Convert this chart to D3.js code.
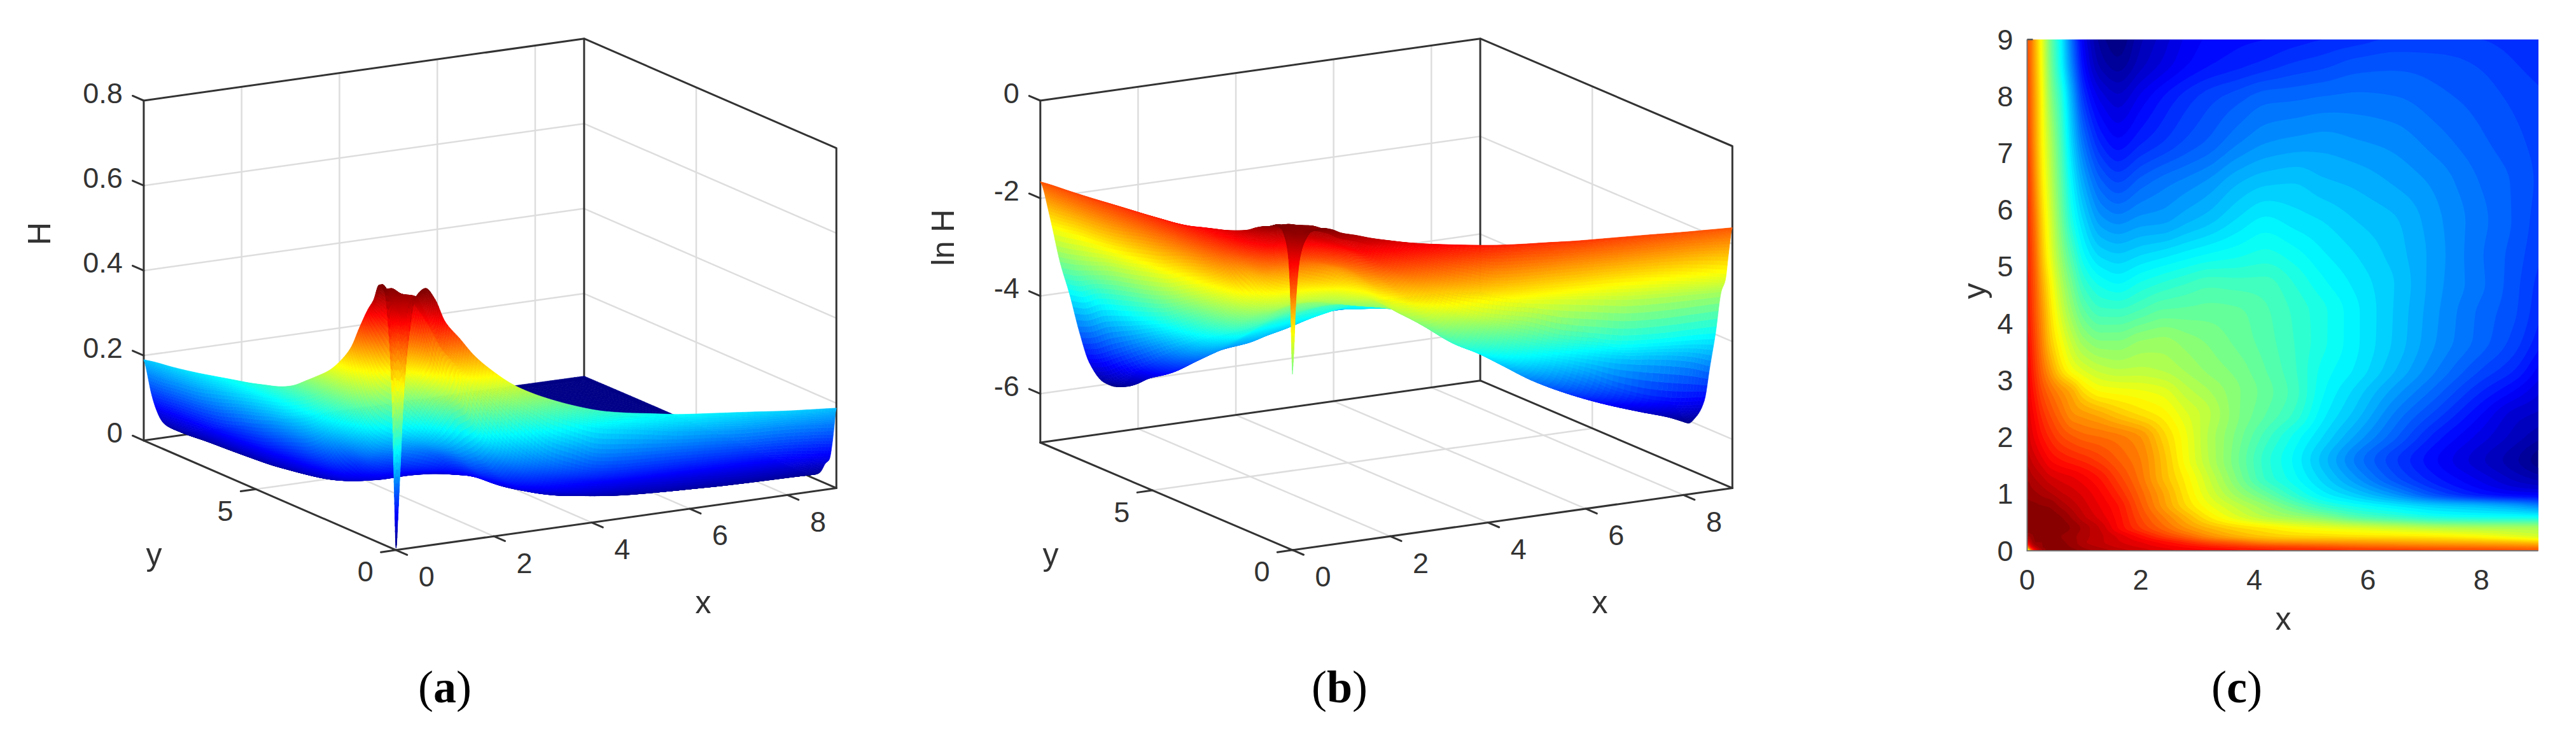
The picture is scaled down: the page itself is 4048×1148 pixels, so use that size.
<!DOCTYPE html>
<html><head><meta charset="utf-8">
<script src="https://d3js.org/d3.v7.min.js"></script>
<style>html,body{margin:0;background:#fff}svg{display:block}text{font-family:"Liberation Sans",Arial,sans-serif;fill:#333}</style>
</head><body><svg id="c" width="4048" height="1148" viewBox="0 0 4048 1148"></svg>
<script>
// grid coordinates (same for x and y)
const gridXY=[0,.03,.07,.15,.25,.4,.6,.8,1,1.3,1.6,2,2.4,2.8,3.2,3.7,4.2,4.7,5.2,5.8,6.5,7.2,8,8.6,9];
// ln H; one row per y in gridXY, one value per x in gridXY
const lnH=[
[-3.4,-2.9,-1.9,-1.05,-.72,-.53,-.5,-.55,-.65,-.74,-.84,-.95,-1.05,-1.13,-1.2,-1.28,-1.35,-1.4,-1.44,-1.49,-1.53,-1.57,-1.62,-1.65,-1.67],
[-2.9,-2.2,-1.6,-1.0,-.72,-.54,-.52,-.58,-.68,-.77,-.87,-.97,-1.07,-1.16,-1.23,-1.32,-1.4,-1.45,-1.48,-1.54,-1.59,-1.63,-1.67,-1.71,-1.73],
[-1.85,-1.6,-1.15,-.8,-.62,-.53,-.55,-.62,-.72,-.82,-.92,-1.02,-1.13,-1.23,-1.33,-1.44,-1.53,-1.58,-1.63,-1.7,-1.75,-1.8,-1.83,-1.87,-1.9],
[-1.0,-1.0,-.8,-.6,-.6,-.56,-.58,-.65,-.78,-.88,-.98,-1.1,-1.25,-1.42,-1.6,-1.75,-1.92,-1.97,-2.0,-2.03,-2.08,-2.13,-2.18,-2.24,-2.3],
[-.7,-.72,-.65,-.58,-.58,-.55,-.6,-.67,-.76,-.88,-1.02,-1.25,-1.5,-1.72,-1.95,-2.15,-2.28,-2.35,-2.38,-2.42,-2.45,-2.5,-2.6,-2.72,-2.8],
[-.52,-.52,-.53,-.55,-.53,-.54,-.55,-.62,-.74,-.92,-1.2,-1.5,-1.75,-2.0,-2.2,-2.38,-2.5,-2.62,-2.7,-2.78,-2.88,-2.98,-3.03,-3.06,-3.08],
[-.5,-.5,-.5,-.52,-.52,-.55,-.6,-.73,-.88,-1.05,-1.25,-1.6,-1.9,-2.2,-2.5,-2.78,-3.0,-3.15,-3.3,-3.55,-3.72,-3.87,-3.93,-3.95,-3.97],
[-.57,-.57,-.57,-.58,-.6,-.62,-.74,-.85,-.96,-1.12,-1.3,-1.68,-2.05,-2.4,-2.68,-2.95,-3.2,-3.48,-3.75,-3.95,-4.13,-4.3,-4.42,-4.55,-4.7],
[-.62,-.63,-.65,-.68,-.72,-.78,-.88,-.95,-1.03,-1.19,-1.4,-1.75,-2.1,-2.47,-2.8,-3.15,-3.45,-3.77,-4.05,-4.3,-4.62,-5.0,-5.3,-5.42,-5.45],
[-.72,-.73,-.77,-.82,-.88,-.98,-1.05,-1.1,-1.18,-1.33,-1.55,-1.85,-2.22,-2.55,-2.9,-3.32,-3.72,-3.97,-4.25,-4.6,-4.99,-5.29,-5.55,-5.75,-5.86],
[-.84,-.86,-.9,-.97,-1.06,-1.2,-1.3,-1.37,-1.43,-1.55,-1.7,-1.9,-2.25,-2.65,-3.0,-3.38,-3.75,-4.02,-4.34,-4.73,-5.09,-5.39,-5.68,-5.88,-6.06],
[-.95,-.97,-1.04,-1.14,-1.27,-1.42,-1.58,-1.68,-1.75,-1.8,-1.86,-2.0,-2.35,-2.68,-3.02,-3.34,-3.65,-3.93,-4.2,-4.53,-4.89,-5.25,-5.55,-5.75,-5.87],
[-1.04,-1.06,-1.13,-1.26,-1.42,-1.6,-1.8,-1.98,-2.05,-2.15,-2.28,-2.42,-2.55,-2.78,-2.98,-3.28,-3.5,-3.72,-4.06,-4.35,-4.73,-5.04,-5.4,-5.65,-5.72],
[-1.11,-1.13,-1.22,-1.38,-1.58,-1.78,-1.98,-2.16,-2.42,-2.6,-2.64,-2.68,-2.75,-2.95,-3.09,-3.28,-3.45,-3.65,-3.98,-4.24,-4.56,-4.85,-5.2,-5.42,-5.58],
[-1.18,-1.2,-1.3,-1.5,-1.74,-2.05,-2.42,-2.68,-2.82,-2.95,-3.0,-2.98,-3.02,-3.12,-3.23,-3.34,-3.5,-3.68,-3.93,-4.12,-4.4,-4.69,-5.0,-5.2,-5.42],
[-1.27,-1.29,-1.38,-1.6,-1.88,-2.28,-2.65,-2.95,-3.17,-3.3,-3.3,-3.2,-3.17,-3.25,-3.32,-3.43,-3.55,-3.7,-3.87,-4.08,-4.33,-4.6,-4.85,-5.05,-5.25],
[-1.33,-1.35,-1.45,-1.68,-1.97,-2.4,-2.85,-3.2,-3.47,-3.65,-3.66,-3.57,-3.47,-3.46,-3.45,-3.48,-3.58,-3.72,-3.87,-4.08,-4.32,-4.58,-4.83,-4.99,-5.17],
[-1.37,-1.39,-1.5,-1.73,-2.08,-2.52,-3.02,-3.4,-3.73,-3.93,-4.0,-3.88,-3.78,-3.7,-3.63,-3.65,-3.66,-3.8,-3.97,-4.13,-4.31,-4.56,-4.78,-4.97,-5.13],
[-1.41,-1.43,-1.54,-1.8,-2.2,-2.68,-3.2,-3.62,-3.98,-4.22,-4.28,-4.2,-4.13,-4.05,-3.98,-3.92,-3.86,-3.95,-4.08,-4.2,-4.35,-4.55,-4.79,-4.95,-5.08],
[-1.45,-1.48,-1.6,-1.88,-2.3,-2.78,-3.37,-3.88,-4.22,-4.55,-4.63,-4.55,-4.52,-4.42,-4.33,-4.18,-4.07,-4.14,-4.2,-4.3,-4.39,-4.57,-4.77,-4.92,-5.05],
[-1.5,-1.53,-1.67,-2.0,-2.42,-2.9,-3.5,-4.08,-4.5,-4.88,-5.01,-4.86,-4.75,-4.67,-4.58,-4.42,-4.33,-4.31,-4.38,-4.43,-4.52,-4.63,-4.81,-4.92,-5.02],
[-1.55,-1.6,-1.75,-2.08,-2.5,-3.0,-3.62,-4.28,-4.8,-5.22,-5.37,-5.22,-5.1,-4.98,-4.88,-4.72,-4.61,-4.57,-4.55,-4.59,-4.64,-4.75,-4.88,-4.97,-5.04],
[-1.6,-1.65,-1.8,-2.13,-2.55,-3.18,-3.78,-4.5,-5.15,-5.55,-5.68,-5.48,-5.3,-5.16,-5.05,-4.95,-4.85,-4.83,-4.8,-4.78,-4.8,-4.87,-4.95,-5.03,-5.08],
[-1.63,-1.69,-1.84,-2.18,-2.62,-3.3,-4.0,-4.75,-5.4,-5.85,-5.97,-5.75,-5.58,-5.42,-5.32,-5.25,-5.18,-5.1,-5.05,-4.97,-4.94,-4.96,-5.02,-5.1,-5.15],
[-1.66,-1.72,-1.85,-2.2,-2.65,-3.35,-4.05,-4.85,-5.5,-5.95,-6.08,-5.82,-5.65,-5.48,-5.38,-5.33,-5.3,-5.25,-5.2,-5.15,-5.08,-5.08,-5.1,-5.15,-5.18]
];
const originHPanelA=0.004;            // the spike of panel (a) reaches the floor
const lnHRange=[-6.1,-0.5];
const hRange=[0.002,0.6];
const xTicks3D=[0,2,4,6,8], yTicks3D=[0,5];
const zTicksA=[0,0.2,0.4,0.6,0.8], zTicksB=[0,-2,-4,-6];
const ticksC=[0,1,2,3,4,5,6,7,8,9], xTicksC=[0,2,4,6,8];
const jetStops=[0,.125,.375,.625,.875,1];
const jetColors=["#00007f","#0000ff","#00ffff","#ffff00","#ff0000","#7f0000"];

const jet=d3.scaleLinear().domain(jetStops).range(jetColors).interpolate(d3.interpolateRgb).clamp(true);
const svg=d3.select("#c");
const LINE="#333",GRID="#dddddd";
const SUB=6;

// shape-preserving mesh refinement for the shaded surface (the read values stay the mesh nodes)
function meshLine(xs,ys){
  const n=xs.length,d=[],m=new Array(n),out=[];
  for(let i=0;i<n-1;i++)d.push((ys[i+1]-ys[i])/(xs[i+1]-xs[i]));
  m[0]=d[0];m[n-1]=d[n-2];
  for(let i=1;i<n-1;i++){
    if(d[i-1]*d[i]<=0)m[i]=0;
    else{const h0=xs[i]-xs[i-1],h1=xs[i+1]-xs[i],w1=2*h1+h0,w2=h1+2*h0;m[i]=(w1+w2)/(w1/d[i-1]+w2/d[i]);}
  }
  for(let i=0;i<n-1;i++){
    const h=xs[i+1]-xs[i];
    for(let s=0;s<SUB;s++){
      const t=s/SUB,t2=t*t,t3=t2*t;
      out.push((2*t3-3*t2+1)*ys[i]+(t3-2*t2+t)*h*m[i]+(-2*t3+3*t2)*ys[i+1]+(t3-t2)*h*m[i+1]);
    }
  }
  out.push(ys[n-1]);
  return out;
}
const fineXY=meshLine(gridXY,gridXY);
function meshTable(t){
  const rows=t.map(r=>meshLine(gridXY,r));
  const cols=fineXY.map((_,i)=>meshLine(gridXY,rows.map(r=>r[i])));
  return fineXY.map((_,j)=>cols.map(c=>c[j]));
}
const N=fineXY.length;

function panel3D(cfg){
  const g=svg.append("g");
  const sx=d3.scaleLinear([0,9],[0,cfg.right[0]-cfg.origin[0]]), sxy=d3.scaleLinear([0,9],[0,cfg.right[1]-cfg.origin[1]]);
  const sy=d3.scaleLinear([0,9],[0,cfg.left[0]-cfg.origin[0]]), syy=d3.scaleLinear([0,9],[0,cfg.left[1]-cfg.origin[1]]);
  const sz=d3.scaleLinear(cfg.zDomain,[0,cfg.zTopY-cfg.left[1]]);
  const P=(x,y,z)=>[cfg.origin[0]+sx(x)+sy(y),cfg.origin[1]+sxy(x)+syy(y)+sz(z)];
  const [z0,z1]=cfg.zDomain;
  const pl=d3.line();
  const seg=(pts,col,w,par)=>(par||g).append("path").attr("d",pl(pts)).attr("fill","none").attr("stroke",col).attr("stroke-width",w).attr("stroke-linecap","round").attr("stroke-linejoin","round");
  cfg.zTicks.filter(z=>z!==z0&&z!==z1).forEach(z=>seg([P(0,9,z),P(9,9,z),P(9,0,z)],GRID,2.5));
  xTicks3D.filter(x=>x>0).forEach(x=>seg([P(x,0,z0),P(x,9,z0),P(x,9,z1)],GRID,2.5));
  yTicks3D.filter(y=>y>0).forEach(y=>seg([P(0,y,z0),P(9,y,z0),P(9,y,z1)],GRID,2.5));
  seg([P(0,9,z0),P(0,9,z1),P(9,9,z1),P(9,0,z1),P(9,0,z0)],LINE,3);
  seg([P(9,9,z0),P(9,9,z1)],LINE,3);
  seg([P(0,9,z0),P(9,9,z0),P(9,0,z0)],LINE,3);
  // surface facets, far corner first
  const fine=meshTable(cfg.table),facets=[];
  for(let i=N-2;i>=0;i--)for(let j=N-2;j>=0;j--){
    const c=[[i,j],[i+1,j],[i+1,j+1],[i,j+1]];
    let m=0;
    const pts=c.map(([a,b])=>{const v=cfg.toZ(fine[b][a]);m+=v/4;return P(fineXY[a],fineXY[b],v);});
    facets.push({pts,m});
  }
  g.append("g").selectAll("path").data(facets).join("path")
    .attr("d",d=>pl(d.pts)+"Z")
    .attr("fill",d=>jet(cfg.colorT(d.m))).attr("stroke",d=>jet(cfg.colorT(d.m))).attr("stroke-width",.7);
  seg([P(0,9,z0),P(0,0,z0),P(9,0,z0)],LINE,3);
  const len=v=>Math.hypot(v[0],v[1]);
  const ex=[P(1,0,z0)[0]-P(0,0,z0)[0],P(1,0,z0)[1]-P(0,0,z0)[1]],ey=[P(0,1,z0)[0]-P(0,0,z0)[0],P(0,1,z0)[1]-P(0,0,z0)[1]];
  const ue=[ex[0]/len(ex),ex[1]/len(ex)],uy=[ey[0]/len(ey),ey[1]/len(ey)];
  const txt=(x,y,s,o={})=>g.append("text").attr("x",x).attr("y",y).attr("text-anchor",o.a||"middle").attr("dominant-baseline","central").attr("font-size",o.fs||45).attr("transform",o.rot?`rotate(${o.rot},${x},${y})`:null).text(s);
  xTicks3D.forEach(x=>{const p=P(x,0,z0);seg([p,[p[0]-uy[0]*19,p[1]-uy[1]*19]],LINE,3);txt(p[0]+48,p[1]+42,String(x));});
  yTicks3D.forEach(y=>{const p=P(0,y,z0);seg([p,[p[0]-ue[0]*24,p[1]-ue[1]*24]],LINE,3);txt(p[0]-48,p[1]+34,String(y));});
  cfg.zTicks.forEach(z=>{const p=P(0,9,z);seg([p,[p[0]+uy[0]*19,p[1]+uy[1]*19]],LINE,3);txt(p[0]-33,p[1]-12,String(z),{a:"end"});});
  txt(cfg.xLabel[0],cfg.xLabel[1],"x",{fs:50});
  txt(cfg.yLabel[0],cfg.yLabel[1],"y",{fs:50});
  txt(cfg.zLabel[0],cfg.zLabel[1],cfg.zName,{fs:50,rot:-90});
}

const tableA=lnH.map(r=>r.slice()); tableA[0][0]=Math.log(originHPanelA);
const tA=d3.scaleLinear(hRange,[0,1]), tB=d3.scaleLinear(lnHRange,[0,1]);
panel3D({origin:[622.3,863.8],right:[1314.3,766.5],left:[225.9,691.8],zTopY:158,zDomain:[0,0.8],zTicks:zTicksA,
  table:tableA,toZ:Math.exp,colorT:tA,xLabel:[1105,946],yLabel:[242,871],zLabel:[62,367],zName:"H"});
panel3D({origin:[2031,863.8],right:[2722.3,766.5],left:[1634.8,695],zTopY:158,zDomain:[-7,0],zTicks:zTicksB,
  table:lnH,toZ:v=>v,colorT:tB,xLabel:[2514,946],yLabel:[1651,871],zLabel:[1482,373],zName:"ln H"});

// panel (c): filled contours
(function(){
  const L=3185.5,R=3988.6,T=62,B=865;
  const x=d3.scaleLinear([0,9],[L,R]),y=d3.scaleLinear([0,9],[B,T]);
  const g=svg.append("g");
  const clip=svg.append("clipPath").attr("id","cc");
  clip.append("rect").attr("x",L).attr("y",T).attr("width",R-L).attr("height",B-T);
  const fine=meshTable(lnH);
  const pg=[-.6,...fineXY,9.6];
  const M=pg.length;
  const flat=[];
  for(let j=0;j<M;j++)for(let i=0;i<M;i++){
    const jj=Math.max(0,Math.min(N-1,j-1)),ii=Math.max(0,Math.min(N-1,i-1));
    flat.push(fine[jj][ii]);
  }
  const idx=d3.scaleLinear(d3.range(M).map(d=>d+.5),pg);
  const levels=d3.range(-6.1,-0.44,0.1);
  const cont=d3.contours().size([M,M]).smooth(true).thresholds(levels)(flat);
  const ln=d3.line();
  const area=d=>d.coordinates.map(poly=>poly.map(r=>ln(r.slice(0,-1).map(p=>[x(idx(p[0])),y(idx(p[1]))]))+"Z").join("")).join("");
  const inner=g.append("g").attr("clip-path","url(#cc)");
  inner.append("rect").attr("x",L).attr("y",T).attr("width",R-L).attr("height",B-T).attr("fill",jet(0));
  inner.selectAll("path").data(cont).join("path").attr("d",area).attr("fill-rule","evenodd")
    .attr("fill",d=>jet(tB(d.value+.05))).attr("stroke","none");
  g.append("path").attr("d",d3.line()([[L,T],[L,B],[R,B]])).attr("fill","none").attr("stroke","#777").attr("stroke-width",2);
  g.append("path").attr("d",d3.line()([[L,T],[L+9,T]])).attr("fill","none").attr("stroke","#555").attr("stroke-width",2.5);
  const txt=(a,b,s,o={})=>g.append("text").attr("x",a).attr("y",b).attr("text-anchor",o.a||"middle").attr("dominant-baseline","central").attr("font-size",o.fs||45).attr("transform",o.rot?`rotate(${o.rot},${a},${b})`:null).text(s);
  xTicksC.forEach(v=>txt(x(v),910,String(v)));
  ticksC.forEach(v=>txt(3163.5,y(v),String(v),{a:"end"}));
  txt(3588,972,"x",{fs:50});
  txt(3103,457,"y",{fs:50,rot:-90});
})();

// captions
[["a",699],["b",2105],["c",3515]].forEach(([s,cx])=>{
  const t=svg.append("text").attr("x",cx).attr("y",1103).attr("text-anchor","middle").attr("font-size",72)
    .style("font-family","'Liberation Serif',serif").style("fill","#000");
  t.append("tspan").text("(");
  t.append("tspan").attr("font-weight","bold").text(s);
  t.append("tspan").text(")");
});
</script></body></html>
